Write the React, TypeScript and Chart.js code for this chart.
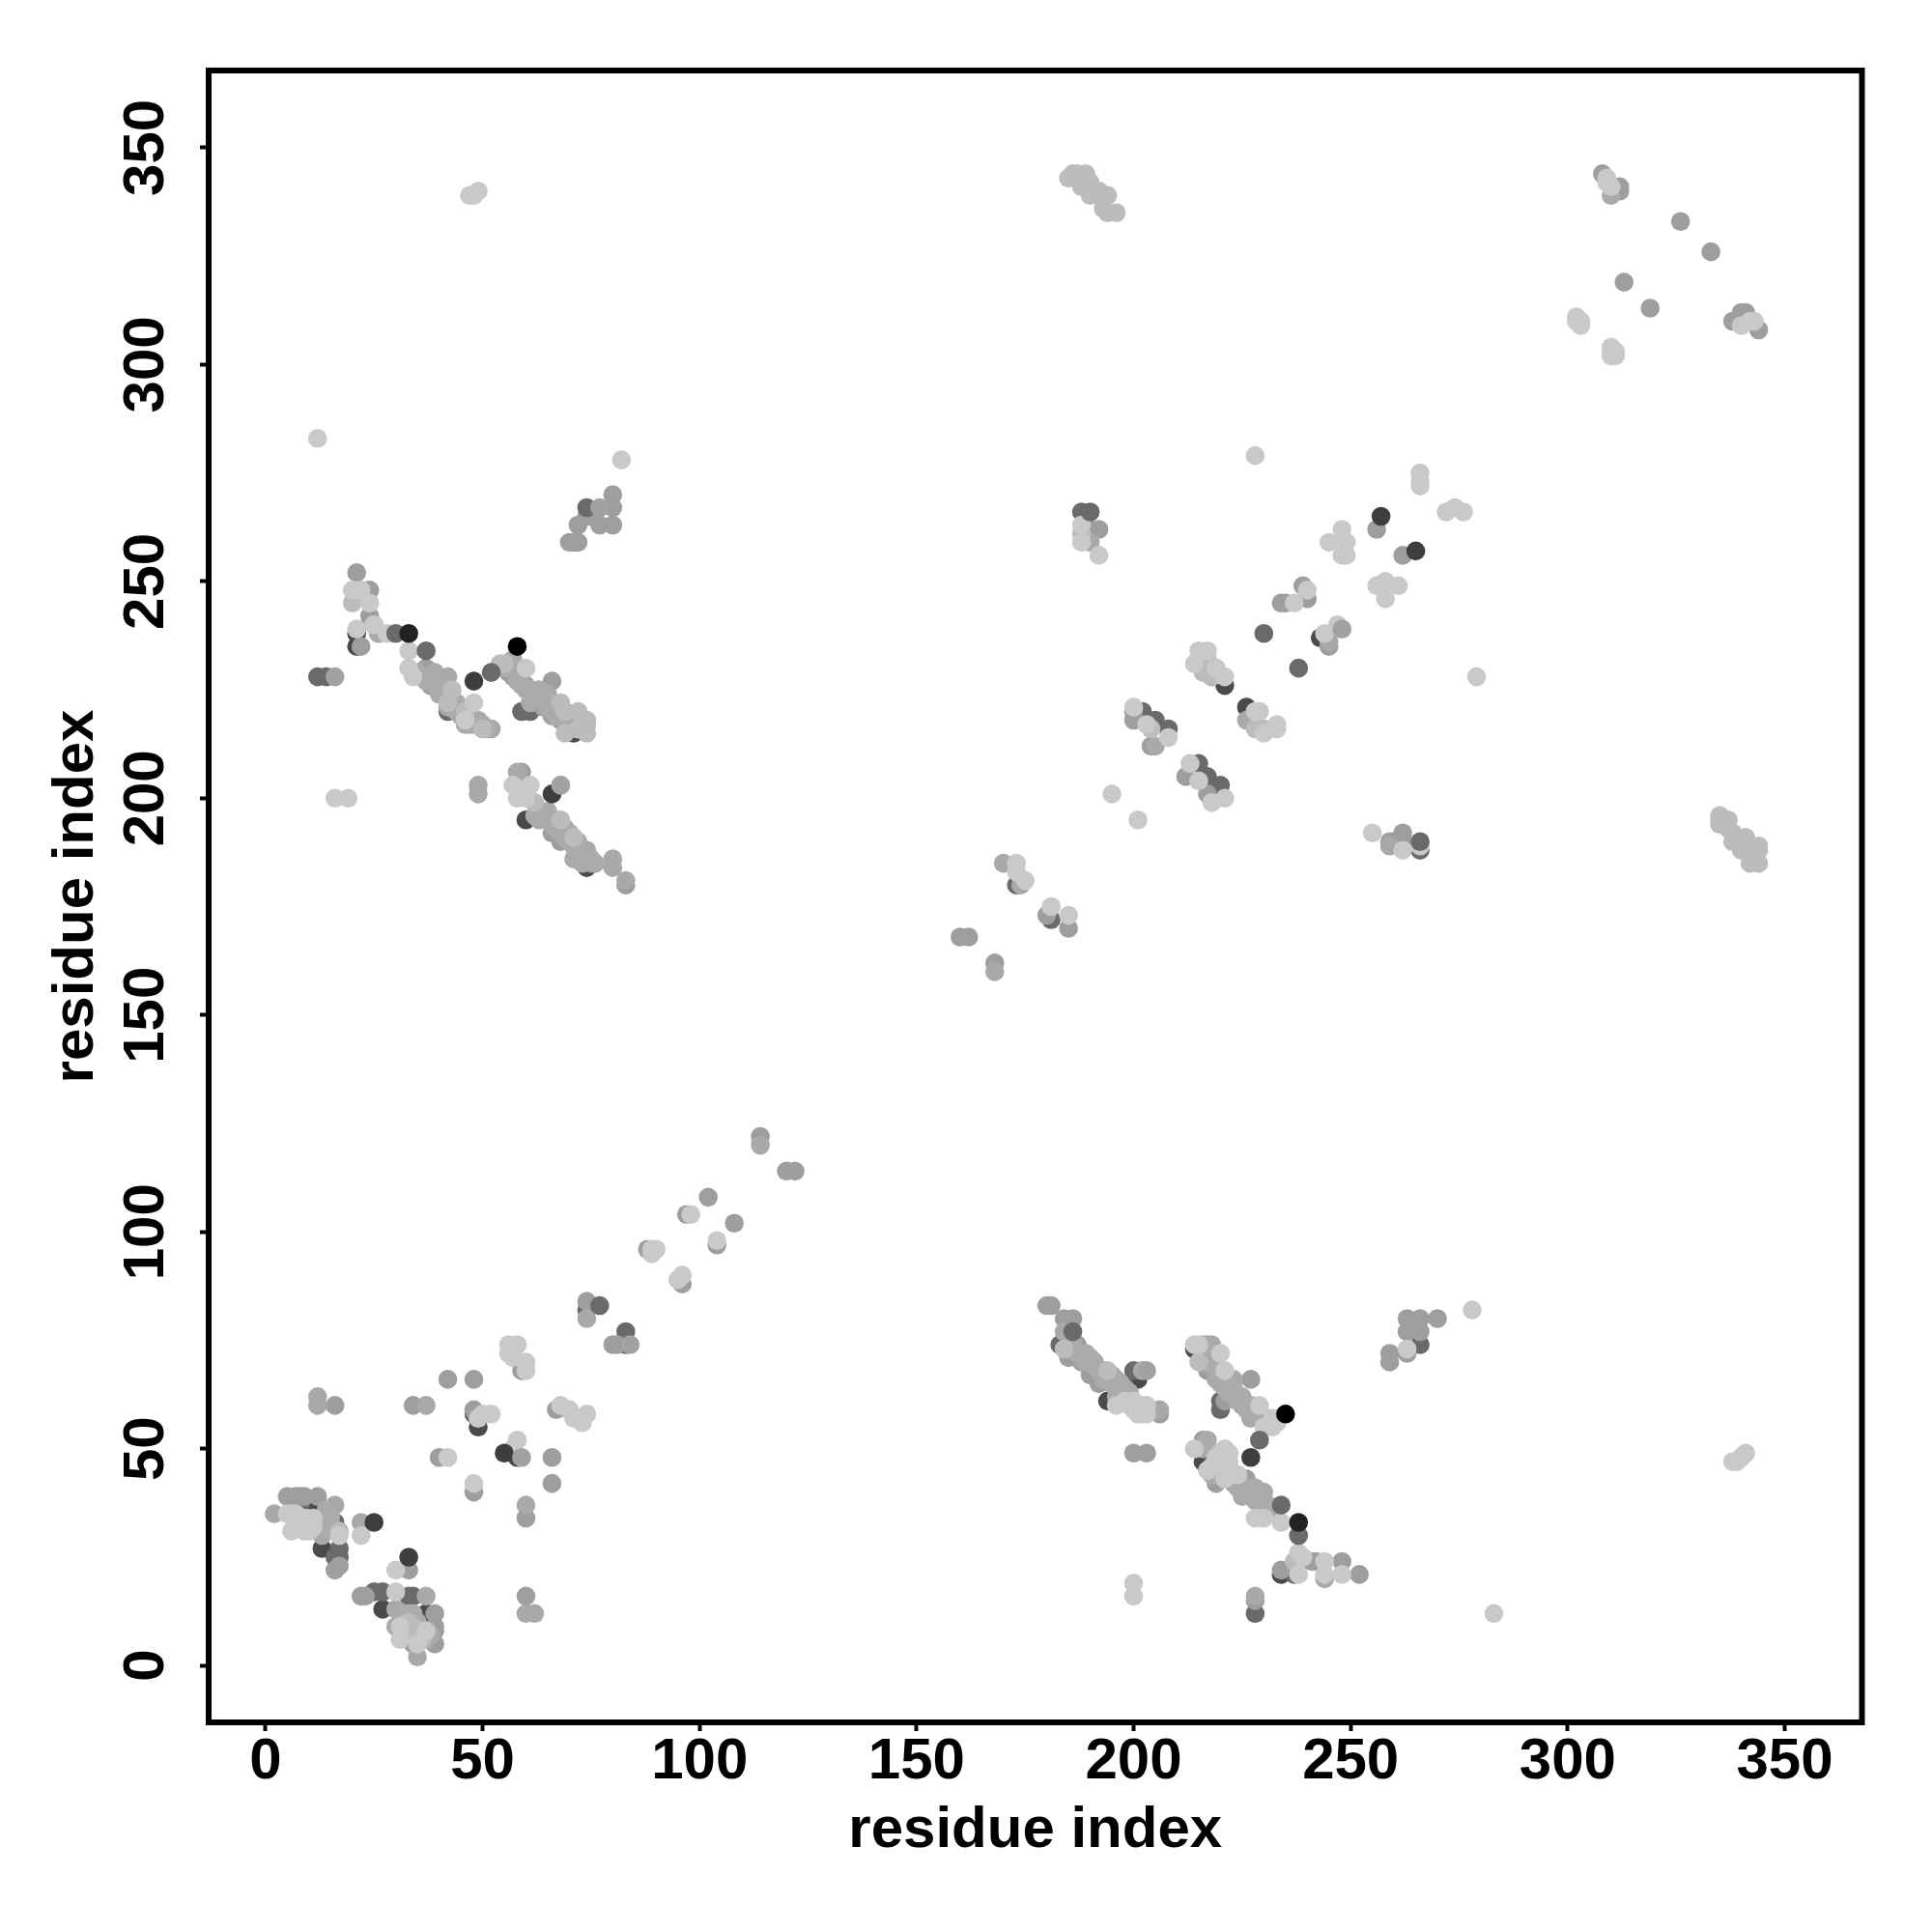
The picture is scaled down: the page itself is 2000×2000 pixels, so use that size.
import React, { useEffect, useRef } from "react";
import { Chart, registerables } from "chart.js";

Chart.register(...registerables);

const tickValues = [0, 50, 100, 150, 200, 250, 300, 350];
const axisTitle = "residue index";
const axisMin = -13.1;
const axisMax = 367.8;

type P = [number, number];

const underDeep: P[] = [[12,37],[13,27],[37,12],[37,9],[27,13],[58,48],[46,218],[60,195],[74,184],[214,73],[215,72],[243,237],[189,261],[49,55],[194,61],[71,215],[216,47],[234,21],[221,226],[226,221],[201,66],[260,190],[21,238],[21,235]];
const underDim: P[] = [[8,37],[16,33],[17,27],[16,25],[17,25],[25,17],[27,17],[33,16],[34,16],[74,82],[83,77],[83,74],[42,220],[61,220],[59,220],[188,266],[202,220],[205,218],[208,216],[215,208],[217,205],[220,203],[200,68],[220,61],[220,59],[228,12],[237,21],[266,188],[266,74],[173,180],[181,172],[12,228],[14,228],[48,58],[183,74]];
const midGrey: P[] = [[5,39],[7,39],[8,39],[9,39],[12,39],[39,12],[39,9],[39,8],[39,5],[42,66],[80,74],[96,88],[97,104],[104,97],[168,162],[200,220],[200,218],[204,212],[48,59],[48,40],[66,48],[66,42],[60,34],[60,16],[22,16],[23,16],[17,23],[16,22],[33,22],[34,60],[16,60],[48,66],[34,5],[40,48],[74,84],[81,74],[102,108],[108,102],[88,96],[114,122],[120,114],[122,114],[160,168],[162,168],[180,173],[185,170],[212,205],[217,201],[245,235],[234,245],[235,245],[239,249],[240,246],[256,262],[262,256],[263,77],[266,77],[263,80],[266,80],[270,80],[263,72],[259,72],[259,70],[228,15],[242,24],[241,24],[248,24],[252,21],[234,22],[206,58],[200,49],[203,49],[180,83],[181,83],[184,80],[186,80],[187,74],[185,71],[188,70],[190,67],[192,65],[216,52],[220,68],[217,68],[220,66],[227,66],[221,61],[225,60],[219,42],[226,43],[223,62],[308,344],[312,341],[312,340],[326,333],[333,326],[313,319],[319,313],[338,310],[340,312],[341,312],[344,308],[72,263],[74,265],[77,263],[80,263],[72,259],[70,259],[71,259],[80,270],[80,267],[21,252],[24,248],[24,242],[37,230],[38,226],[22,235],[56,229],[59,227],[57,228],[60,226],[63,222],[64,221],[66,227],[66,219],[68,218],[59,206],[65,195],[66,192],[69,193],[68,190],[75,185],[83,180],[59,68],[67,59],[190,262],[192,262],[259,190],[262,192],[262,190]];
const softGrey: P[] = [[2,35],[16,37],[13,34],[13,30],[22,33],[30,13],[33,12],[37,16],[30,9],[35,2],[12,62],[12,60],[37,60],[60,37],[60,12],[62,12],[74,80],[83,181],[80,186],[80,184],[71,186],[74,188],[58,206],[63,197],[68,203],[49,203],[49,201],[42,221],[39,229],[42,228],[49,218],[52,216],[57,232],[61,225],[61,222],[65,224],[170,185],[174,180],[205,212],[226,218],[245,236],[190,259],[184,77],[189,72],[191,70],[194,67],[195,65],[196,62],[202,68],[206,59],[216,50],[225,39],[228,41],[230,38],[227,57],[223,66],[216,74],[218,74],[217,74],[244,20],[228,16],[310,339],[259,189],[25,240],[26,238],[218,228],[114,120],[168,160]];
const bandGrey: P[] = [[35,229],[36,228],[37,227],[38,228],[39,227],[40,225],[40,224],[41,224],[42,225],[43,222],[44,222],[44,220],[45,219],[47,217],[46,217],[48,217],[50,217],[51,216],[55,230],[56,231],[57,230],[58,229],[58,227],[59,226],[60,225],[61,224],[62,223],[63,225],[64,223],[65,221],[66,222],[66,220],[67,219],[67,221],[68,220],[69,218],[70,217],[70,219],[71,218],[72,218],[73,217],[72,216],[62,196],[63,195],[64,196],[65,197],[66,194],[67,193],[67,195],[68,192],[69,191],[70,190],[70,192],[71,189],[72,188],[72,190],[73,187],[74,186],[75,186],[76,185],[73,185],[185,73],[186,74],[187,72],[188,72],[189,70],[190,71],[191,69],[192,68],[193,66],[193,68],[194,66],[195,67],[196,64],[197,63],[196,66],[197,65],[198,64],[198,62],[199,63],[216,72],[216,70],[217,71],[218,70],[218,69],[219,68],[219,66],[220,65],[221,66],[221,64],[222,65],[222,63],[223,64],[224,62],[224,61],[225,62],[226,60],[226,59],[227,60],[228,58],[228,59],[229,57],[229,58],[231,56],[231,57],[217,50],[218,46],[218,44],[223,42],[224,41],[225,41],[226,41],[227,39],[227,40],[228,38],[229,37],[229,39],[230,40],[231,37],[232,36],[231,36],[217,52],[13,32],[14,36],[14,32],[15,34],[32,12],[34,12],[35,10],[38,7],[37,6]];
const paleGrey: P[] = [[20,245],[69,220],[72,216],[74,218],[74,217],[71,191],[62,199],[68,195],[184,73],[194,68],[215,70],[222,45],[237,24],[43,225],[42,222],[46,220],[50,216],[55,231],[54,231],[69,215],[72,220],[74,215],[68,222],[216,229],[218,228],[219,230],[216,231],[217,232],[204,216],[228,216],[230,216],[188,261],[335,196],[335,195],[335,194],[337,195],[337,193],[338,192],[338,190],[340,188],[341,191],[342,189],[343,188],[343,186],[342,185],[344,185],[344,188],[344,189],[340,190],[185,343],[186,344],[187,344],[189,344],[188,341],[190,342],[190,339],[192,339],[194,339],[193,336],[194,335],[196,335],[192,340],[34,9],[17,31],[33,10],[33,8],[35,7],[36,6],[34,7]];
const lightGrey: P[] = [[6,31],[9,31],[9,34],[5,35],[6,35],[9,33],[7,33],[8,32],[10,31],[11,32],[11,34],[7,35],[17,30],[22,30],[30,22],[30,17],[31,9],[31,6],[35,5],[37,8],[42,48],[48,42],[50,58],[52,58],[49,57],[58,52],[57,50],[56,74],[58,74],[56,72],[57,71],[60,70],[60,68],[68,60],[70,59],[71,57],[74,58],[73,56],[89,96],[90,96],[89,95],[95,89],[96,90],[98,104],[104,98],[47,339],[48,339],[49,340],[12,283],[82,278],[16,200],[19,200],[57,203],[61,203],[58,200],[60,200],[20,248],[22,248],[24,245],[25,240],[21,239],[28,238],[33,234],[33,230],[34,228],[48,222],[46,218],[60,230],[173,185],[175,181],[181,175],[185,173],[173,183],[200,221],[203,217],[208,214],[213,208],[215,204],[218,199],[221,200],[215,234],[217,234],[214,231],[219,230],[221,228],[228,220],[229,220],[230,215],[233,217],[233,216],[247,240],[244,238],[248,262],[245,259],[249,259],[249,256],[248,256],[256,249],[258,250],[261,249],[258,246],[240,248],[237,245],[228,279],[266,275],[266,273],[266,272],[272,266],[274,267],[276,266],[255,192],[262,188],[266,189],[195,201],[201,195],[279,228],[278,82],[283,12],[196,60],[198,61],[199,60],[200,61],[201,60],[202,60],[203,60],[200,59],[201,58],[202,58],[203,58],[214,74],[215,74],[220,72],[221,68],[229,60],[230,55],[232,57],[232,55],[233,56],[233,57],[214,50],[219,48],[220,49],[221,50],[221,47],[222,49],[222,47],[217,45],[219,47],[220,46],[221,43],[224,44],[228,34],[230,34],[234,33],[238,26],[239,25],[244,24],[238,21],[244,21],[248,21],[200,19],[200,16],[263,73],[338,47],[339,47],[340,48],[341,49],[309,343],[309,342],[310,341],[302,311],[302,310],[303,310],[303,309],[310,304],[310,303],[311,303],[311,302],[310,302],[340,309],[342,310],[343,310],[188,263],[188,259],[192,256]];
const topMid: P[] = [[248,239],[84,74],[59,48],[68,203],[77,267],[203,68],[16,228]];
const topDim: P[] = [[30,238],[37,234],[52,229],[77,83],[74,267],[190,266],[186,77],[230,238],[238,230],[229,52],[234,37],[266,190],[238,30]];
const topDark: P[] = [[25,33],[33,25],[55,49],[48,227],[257,265],[265,257],[66,201],[227,48]];
const topCharcoal: P[] = [[33,238],[238,33]];
const topBlack: P[] = [[58,235],[235,58]];

const layers: { data: P[]; color: string }[] = [
  { data: underDeep, color: "#4a4a4a" },
  { data: underDim, color: "#6a6a6a" },
  { data: midGrey, color: "#9e9e9e" },
  { data: softGrey, color: "#a9a9a9" },
  { data: bandGrey, color: "#ababab" },
  { data: paleGrey, color: "#bcbcbc" },
  { data: lightGrey, color: "#c9c9c9" },
  { data: topDim, color: "#6a6a6a" },
  { data: topDark, color: "#3e3e3e" },
  { data: topCharcoal, color: "#222222" },
  { data: topBlack, color: "#000000" },
  { data: topMid, color: "#a2a2a2" },
];

const fontFamily = "'Liberation Sans', Arial, sans-serif";

const frame = {
  id: "frame",
  afterDatasetsDraw(chart: any) {
    const { left, top, width, height } = chart.chartArea;
    const c = chart.ctx;
    c.save();
    c.strokeStyle = "#000";
    c.lineWidth = 6;
    c.lineJoin = "miter";
    c.strokeRect(left, top, width, height);
    c.restore();
  },
};

export default function App() {
  const ref = useRef<HTMLCanvasElement>(null);
  useEffect(() => {
    const chart = new Chart(ref.current as HTMLCanvasElement, {
      type: "scatter",
      plugins: [frame],
      data: {
        datasets: layers.map((l, i) => ({
          data: l.data.map(([x, y]) => ({ x, y })),
          backgroundColor: l.color,
          borderWidth: 0,
          pointRadius: 9.8,
          order: layers.length - i,
        })),
      },
      options: {
        responsive: false,
        animation: false,
        devicePixelRatio: 1,
        layout: { padding: { top: 73, right: 72.5, left: 0, bottom: 0 } },
        plugins: { legend: { display: false }, tooltip: { enabled: false } },
        scales: {
          x: {
            type: "linear",
            min: axisMin,
            max: axisMax,
            afterBuildTicks: (s: any) => { s.ticks = tickValues.map((value) => ({ value })); },
            afterFit: (s: any) => { s.height = 217; s.paddingLeft = 0; s.paddingRight = 0; },
            grid: { drawOnChartArea: false, drawTicks: true, tickLength: 9, tickWidth: 4, tickColor: "#000" },
            border: { display: false },
            ticks: { autoSkip: false, maxRotation: 0, minRotation: 0, color: "#000", padding: -4, font: { family: fontFamily, size: 60, weight: "bold" } },
            title: { display: true, text: axisTitle, color: "#000", padding: { top: 0, bottom: 69 }, font: { family: fontFamily, size: 60, weight: "bold" } },
          },
          y: {
            type: "linear",
            min: axisMin,
            max: axisMax,
            afterBuildTicks: (s: any) => { s.ticks = tickValues.map((value) => ({ value })); },
            afterFit: (s: any) => { s.width = 216; s.paddingTop = 0; s.paddingBottom = 0; },
            grid: { drawOnChartArea: false, drawTicks: true, tickLength: 9, tickWidth: 4, tickColor: "#000" },
            border: { display: false },
            ticks: { autoSkip: false, minRotation: 90, maxRotation: 90, crossAlign: "center", color: "#000", padding: 4, font: { family: fontFamily, size: 60, weight: "bold" } },
            title: { display: true, text: axisTitle, color: "#000", padding: { top: 43, bottom: 0 }, font: { family: fontFamily, size: 60, weight: "bold" } },
          },
        },
      },
    } as any);
    return () => chart.destroy();
  }, []);
  return (
    <div style={{ position: "absolute", left: 0, top: 0, width: 2000, height: 2000, background: "#fff" }}>
      <canvas ref={ref} width={2000} height={2000} style={{ display: "block", width: 2000, height: 2000 }} />
    </div>
  );
}
